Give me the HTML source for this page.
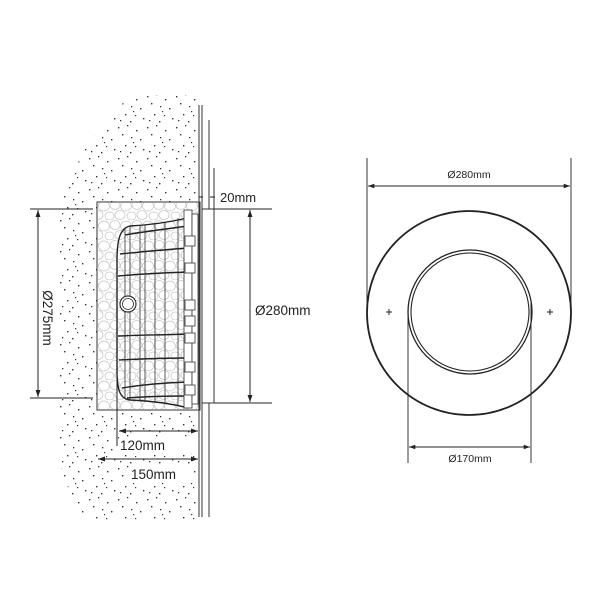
<!DOCTYPE html>
<html><head><style>
html,body{margin:0;padding:0;background:#fff;}
svg{display:block;}
text{font-family:"Liberation Sans",sans-serif;fill:#222;}
</style></head><body>
<svg width="603" height="603" viewBox="0 0 603 603" xmlns="http://www.w3.org/2000/svg">
<defs>
<marker id="a" viewBox="0 0 10 10" refX="10" refY="5" markerWidth="7" markerHeight="7" orient="auto-start-reverse"><path d="M0,1.5L10,5L0,8.5z" fill="#222"/></marker>
<pattern id="dp" width="29" height="31" patternUnits="userSpaceOnUse">
<g fill="#333">
<rect x="2" y="3" width="1.4" height="1.4"/><rect x="11" y="1" width="1.3" height="1.3"/><rect x="20" y="6" width="1.4" height="1.4"/>
<rect x="6" y="10" width="1.4" height="1.4"/><rect x="15" y="13" width="1.3" height="1.3"/>
<rect x="24" y="15" width="1.4" height="1.4"/><rect x="9" y="21" width="1.4" height="1.4"/>
<rect x="19" y="22" width="1.2" height="1.2"/><rect x="27" y="25" width="1.4" height="1.4"/><rect x="4" y="27" width="1.3" height="1.3"/>
<rect x="14" y="28" width="1.4" height="1.4"/><rect x="17" y="18" width="1.2" height="1.2"/>
</g>
</pattern>
<pattern id="sp" width="22" height="20" patternUnits="userSpaceOnUse">
<g fill="none" stroke="#c4c4c4" stroke-width="0.7">
<ellipse cx="5" cy="5" rx="5" ry="4.5"/><ellipse cx="16" cy="6" rx="5.5" ry="5"/>
<ellipse cx="10" cy="15" rx="5" ry="4.5"/><ellipse cx="21" cy="16" rx="4" ry="4"/><ellipse cx="0" cy="16" rx="4" ry="4"/>
</g>
</pattern>
</defs>
<path d="M130,95 L198,95 L198,520 L80,520 L58,460 L58,200 L90,140 Z" fill="url(#dp)"/>
<rect x="97" y="202" width="103" height="208" fill="#fff" stroke="#333" stroke-width="1"/>
<rect x="98" y="203" width="101" height="206" fill="url(#sp)"/>
<g stroke="#333" stroke-width="1" fill="none">
<line x1="199" y1="105" x2="199" y2="517"/>
<line x1="202" y1="105" x2="202" y2="517"/>
<line x1="209" y1="120" x2="209" y2="517"/>
<rect x="202" y="209" width="12" height="194" fill="#fff" rx="1"/>
<line x1="214" y1="168" x2="214" y2="209"/>
</g>
<g stroke="#222" fill="none" stroke-width="1.4">
<path d="M188,218 C170,222 150,225 130,226 C120,228 117,240 117,260 L117,370 C117,390 120,399 130,400 C150,401 170,403 188,408"/>
<path d="M188,226 C160,230 140,232 125,235"/>
<path d="M188,248 C160,250 140,252 120,254"/>
<path d="M188,272 C160,273 140,274 118,276"/>
<path d="M188,334 C160,335 140,335 118,336"/>
<path d="M188,358 C160,358 140,359 119,360"/>
<path d="M188,382 C160,383 140,385 122,388"/>
<path d="M188,396 C160,396 140,397 127,398"/>
</g>
<g stroke="#333" fill="none" stroke-width="0.8">
<line x1="125" y1="228" x2="125" y2="398"/>
<line x1="130" y1="226" x2="130" y2="400"/>
<line x1="140" y1="225" x2="140" y2="401"/>
<line x1="145" y1="225" x2="145" y2="401"/>
<line x1="155" y1="224" x2="155" y2="402"/>
<line x1="165" y1="222" x2="165" y2="403"/>
<line x1="178" y1="218" x2="178" y2="405"/>
<rect x="184" y="210" width="8" height="198" fill="#fff"/>
<rect x="192" y="214" width="6" height="190" fill="#fff"/>
<rect x="185" y="236" width="10" height="10" fill="#fff"/>
<rect x="185" y="263" width="10" height="10" fill="#fff"/>
<rect x="185" y="300" width="10" height="10" fill="#fff"/>
<rect x="185" y="316" width="10" height="10" fill="#fff"/>
<rect x="185" y="333" width="10" height="10" fill="#fff"/>
<rect x="185" y="362" width="10" height="10" fill="#fff"/>
<rect x="185" y="385" width="10" height="10" fill="#fff"/>
<circle cx="128" cy="304" r="8" fill="#fff" stroke-width="1.2"/>
<circle cx="128" cy="304" r="5.5"/>
</g>
<g stroke="#222" stroke-width="1" fill="none">
<line x1="30" y1="209" x2="93" y2="209"/>
<line x1="30" y1="398" x2="93" y2="398"/>
<line x1="38" y1="210" x2="38" y2="397" marker-start="url(#a)" marker-end="url(#a)"/>
<line x1="214" y1="209" x2="272" y2="209"/>
<line x1="214" y1="403" x2="272" y2="403"/>
<line x1="250" y1="210" x2="250" y2="402" marker-start="url(#a)" marker-end="url(#a)"/>
<line x1="117" y1="280" x2="117" y2="446"/>
<line x1="119" y1="431" x2="198" y2="431" marker-start="url(#a)" marker-end="url(#a)"/>
<line x1="98" y1="459" x2="198" y2="459" marker-start="url(#a)" marker-end="url(#a)"/>
<line x1="199" y1="197" x2="203" y2="197"/>
<line x1="210" y1="197" x2="215" y2="197"/>
</g>
<rect x="119" y="437" width="78" height="16" fill="#fff"/>
<rect x="130" y="465" width="62" height="17" fill="#fff"/>
<text x="220" y="202" font-size="13">20mm</text>
<text x="255" y="315" font-size="13.5">Ø280mm</text>
<text x="120" y="450" font-size="13.5">120mm</text>
<text x="131" y="479" font-size="13.5">150mm</text>
<text transform="translate(43,318) rotate(90)" text-anchor="middle" font-size="13.5">Ø275mm</text>
<g stroke="#222" fill="none">
<circle cx="469" cy="313" r="102" stroke-width="1.8"/>
<circle cx="470" cy="312" r="62" stroke-width="1.3"/>
<circle cx="470" cy="312" r="59" stroke-width="1.1"/>
<line x1="367" y1="158" x2="367" y2="313" stroke-width="0.9"/>
<line x1="571" y1="158" x2="571" y2="313" stroke-width="0.9"/>
<line x1="368" y1="186" x2="570" y2="186" stroke-width="0.9" marker-start="url(#a)" marker-end="url(#a)"/>
<line x1="408" y1="310" x2="408" y2="463" stroke-width="0.9"/>
<line x1="531" y1="303" x2="531" y2="463" stroke-width="0.9"/>
<line x1="409" y1="447" x2="530" y2="447" stroke-width="0.9" marker-start="url(#a)" marker-end="url(#a)"/>
<path d="M386,312h6M389,309v6M547,312h6M550,309v6" stroke-width="1"/>
</g>
<text x="469" y="178" font-size="10.5" text-anchor="middle">Ø280mm</text>
<text x="470" y="462" font-size="10.5" text-anchor="middle">Ø170mm</text>
</svg>
</body></html>
